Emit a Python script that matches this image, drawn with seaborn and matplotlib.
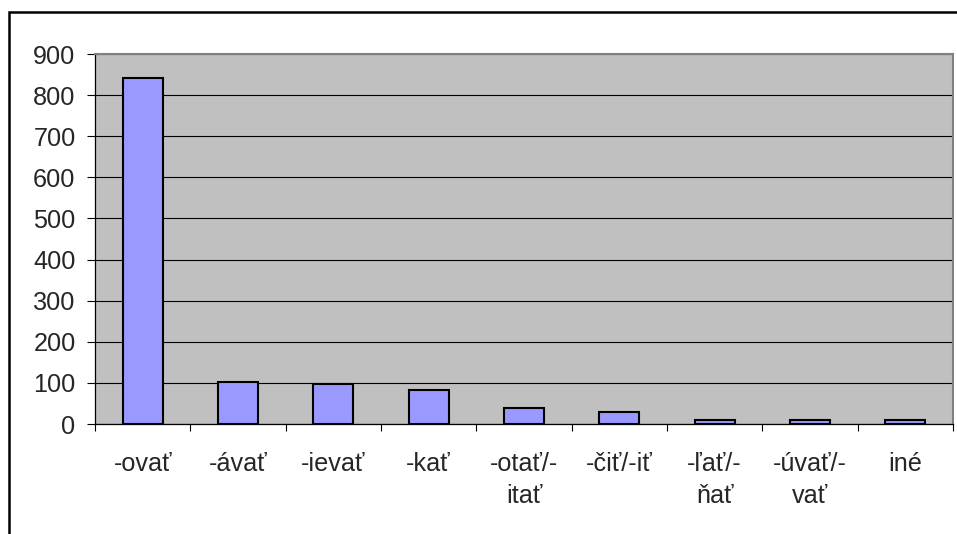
import numpy as np
import pandas as pd
import matplotlib
matplotlib.use("Agg")
import matplotlib.pyplot as plt
import seaborn as sns
from matplotlib.patches import Rectangle

# údaje z grafu
kategorie = ["-ovať", "-ávať", "-ievať", "-kať", "-otať/-\nitať",
             "-čiť/-iť", "-ľať/-\nňať", "-úvať/-\nvať", "iné"]
pocty = [841, 101, 97, 82, 40, 29, 9, 9, 9]
y_ticky = [0, 100, 200, 300, 400, 500, 600, 700, 800, 900]

df = pd.DataFrame({"kategoria": kategorie, "pocet": pocty})

sns.set_style("white")
plt.rcParams["font.family"] = ["Liberation Sans", "DejaVu Sans"]

fig = plt.figure(figsize=(9.57, 5.34), dpi=100)
ax = fig.add_axes([95 / 957, 1 - 424 / 534, 858 / 957, 370 / 534])
ax.set_facecolor("#C0C0C0")

sns.barplot(data=df, x="kategoria", y="pocet", color="#9999FF",
            saturation=1, edgecolor="black", linewidth=1.5, width=0.42, ax=ax)

ax.set_ylim(0, 900)
ax.set_xlim(-0.5, len(kategorie) - 0.5)
ax.set_yticks(y_ticky)
ax.yaxis.grid(True, color="black", linewidth=0.8)
ax.set_axisbelow(True)

ax.set_xlabel("")
ax.set_ylabel("")
ax.tick_params(axis="y", length=6, width=0.8, color="black", pad=8,
               labelsize=18.2, left=True)
ax.tick_params(axis="x", which="major", length=0, pad=20, labelsize=18.2)
ax.set_xticks(np.arange(-0.5, len(kategorie)), minor=True)
ax.tick_params(axis="x", which="minor", length=5, width=0.8, color="black",
               bottom=True)
for lab in ax.get_xticklabels():
    lab.set_linespacing(1.45)

for s in ["left", "bottom"]:
    ax.spines[s].set_color("black")
    ax.spines[s].set_linewidth(0.9)
for s in ["top", "right"]:
    ax.spines[s].set_color("#808080")
    ax.spines[s].set_linewidth(1.5)

# rámik okolo celého grafu
fig.patches.append(Rectangle((9 / 957, -0.05), 1.1, 1 - 12 / 534 + 0.05,
                             transform=fig.transFigure, fill=False,
                             edgecolor="black", linewidth=1.8))

fig.savefig("out.png", dpi=100)
